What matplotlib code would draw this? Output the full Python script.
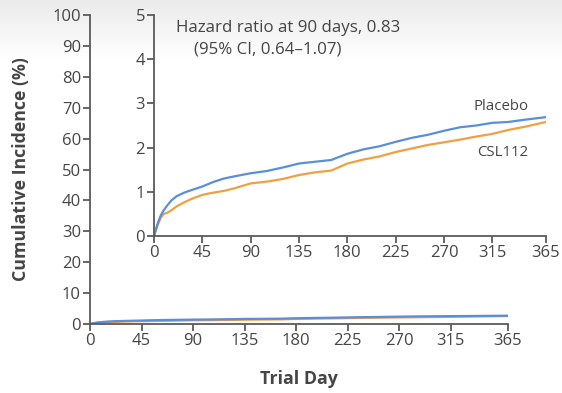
import matplotlib
matplotlib.use("Agg")
import matplotlib.pyplot as plt
import numpy as np

days = [0, 3, 6, 9, 12, 16, 21, 28, 35, 45, 55, 65, 75, 90, 105, 120, 135, 150, 165, 180,
        195, 210, 225, 240, 255, 270, 285, 300, 315, 330, 345, 365]
placebo = [0, 0.25, 0.45, 0.58, 0.68, 0.80, 0.90, 0.98, 1.04, 1.12, 1.22, 1.30, 1.35, 1.42,
           1.47, 1.55, 1.64, 1.68, 1.72, 1.86, 1.96, 2.03, 2.13, 2.22, 2.29, 2.38, 2.46,
           2.50, 2.56, 2.58, 2.63, 2.69]
csl112 = [0, 0.22, 0.40, 0.50, 0.52, 0.58, 0.67, 0.76, 0.84, 0.93, 0.98, 1.02, 1.08, 1.19,
          1.23, 1.29, 1.38, 1.44, 1.48, 1.64, 1.73, 1.80, 1.90, 1.98, 2.06, 2.12, 2.18,
          2.25, 2.31, 2.40, 2.47, 2.58]

xticks = [0, 45, 90, 135, 180, 225, 270, 315, 365]
main_yticks = [0, 10, 20, 30, 40, 50, 60, 70, 80, 90, 100]
inset_yticks = [0, 1, 2, 3, 4, 5]

BLUE = "#5a8ed8"
ORANGE = "#f0a040"
AX = "#5a5a5a"
TXT = "#454545"

plt.rcParams['font.family'] = ['Open Sans', 'DejaVu Sans']

W, H = 562, 393
fig = plt.figure(figsize=(W / 100, H / 100), dpi=100)
fig.patch.set_facecolor("white")

# subtle gray gradient at top
grad = np.linspace(0.92, 1.0, 100).reshape(-1, 1)
bg = fig.add_axes([0, 0, 1, 1], zorder=-10)
bg.imshow(np.dstack([grad, grad, grad]), aspect='auto', extent=[0, 1, 0.85, 1],
          origin='upper')
bg.set_xlim(0, 1)
bg.set_ylim(0, 1)
bg.axis('off')


def px(x0, y0, x1, y1):
    return [x0 / W, 1 - y1 / H, (x1 - x0) / W, (y1 - y0) / H]


def style(ax):
    for s in ['top', 'right']:
        ax.spines[s].set_visible(False)
    for s in ['left', 'bottom']:
        ax.spines[s].set_color(AX)
        ax.spines[s].set_linewidth(1.3)
    ax.tick_params(colors=AX, labelcolor=TXT, length=5, width=1.3, labelsize=12, pad=1.5)


ax = fig.add_axes(px(90, 15, 508, 324))
ax.patch.set_alpha(0)
ax.plot(days, csl112, color=ORANGE, lw=1.6)
ax.plot(days, placebo, color=BLUE, lw=1.6)
ax.set_xlim(0, 365)
ax.set_ylim(0, 100)
ax.set_xticks(xticks)
ax.set_yticks(main_yticks)
style(ax)
ax.set_ylabel("Cumulative Incidence (%)", fontsize=12.8, fontweight='bold', color=TXT, labelpad=16)
ax.set_xlabel("Trial Day", fontsize=12.8, fontweight='bold', color=TXT, labelpad=15)

ins = fig.add_axes(px(154, 15, 546, 236))
ins.patch.set_alpha(0)
ins.plot(days, csl112, color=ORANGE, lw=1.6)
ins.plot(days, placebo, color=BLUE, lw=1.6)
ins.set_xlim(0, 365)
ins.set_ylim(0, 5)
ins.set_xticks(xticks)
ins.set_yticks(inset_yticks)
style(ins)

ins.text(0.056, 0.941, "Hazard ratio at 90 days, 0.83", transform=ins.transAxes,
         fontsize=12.2, color=TXT, va='center', ha='left')
ins.text(0.102, 0.842, "(95% CI, 0.64\u20131.07)", transform=ins.transAxes,
         fontsize=12.2, color=TXT, va='center', ha='left')
ins.text(323, 2.93, "Placebo", fontsize=10.8, color=TXT, ha='center', va='center')
ins.text(325, 1.89, "CSL112", fontsize=10.8, color=TXT, ha='center', va='center')

fig.savefig("out.png", dpi=100)
